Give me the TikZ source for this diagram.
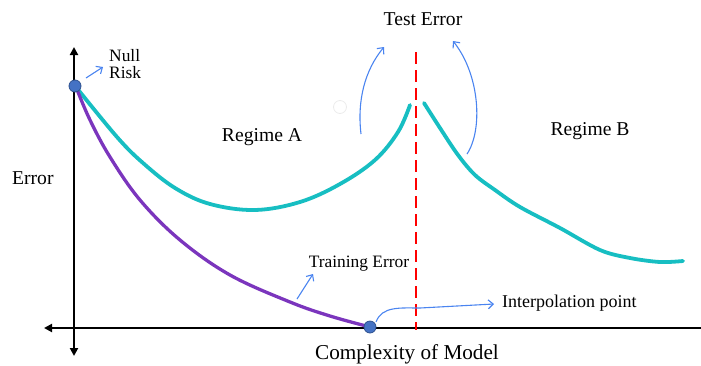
\documentclass[tikz,border=0pt]{standalone}
\usepackage{fontspec}
\setmainfont{Liberation Serif}
\usetikzlibrary{arrows.meta}
\definecolor{testcol}{HTML}{17BEC2}
\definecolor{traincol}{HTML}{7B35BD}
\definecolor{notecol}{HTML}{4A84F0}
\definecolor{dotcol}{HTML}{4472C4}
\definecolor{dotedge}{HTML}{2F528F}
\tikzset{
  axis/.style={line width=2.6pt, black, -{Triangle[length=8pt,width=8pt]}},
  bigtext/.style={font=\fontsize{19.6}{22}\selectfont, inner sep=0pt},
  smalltext/.style={font=\fontsize{17.4}{19.5}\selectfont, inner sep=0pt, align=left},
  note/.style={notecol, line width=1.1pt, -{Straight Barb[length=5pt,width=9pt]}},
  testcurve/.style={testcol, line width=3.8pt, line cap=round, line join=round},
  traincurve/.style={traincol, line width=3.3pt, line cap=round, line join=round},
  dotpt/.style={circle, fill=dotcol, draw=dotedge, line width=0.8pt, minimum size=12pt, inner sep=0pt}
}
\begin{document}
\begin{tikzpicture}[x=1pt,y=-1pt]
\useasboundingbox (0,0) rectangle (701,365);

% axes
\coordinate (origin) at (74,328);
\coordinate (ytop) at (74,47);
\coordinate (ybot) at (74,356);
\coordinate (xleft) at (44,328);
\coordinate (xright) at (701,328);
\draw[axis] (origin) -- (ytop);
\draw[axis] (origin) -- (ybot);
\draw[axis] (origin) -- (xleft);
\draw[line width=2.6pt] (origin) -- (xright);

% interpolation threshold
\coordinate (thtop) at (416,52);
\coordinate (thbot) at (416,330);
\draw[red, line width=1.8pt, dash pattern=on 12pt off 6pt] (thtop) -- (thbot);

% test error, left branch
\draw[testcurve] plot[smooth, tension=0.6] coordinates {(76,87) (117,137) (143,163) (175,188) (210,204) (255,210) (300,202) (340,184) (375,160) (398,132) (410,105)};
% test error, right branch
\draw[testcurve] plot[smooth, tension=0.55] coordinates {(424,103) (440,128) (458,155) (475,175) (495,190) (520,207) (560,228) (600,250) (630,258) (660,262) (683,261)};

% training error
\draw[traincurve] plot[smooth, tension=0.6] coordinates {(76,87) (90,120) (110,157) (140,200) (180,240) (230,275) (290,302) (330,316) (370,327)};

% marked points
\node[dotpt] (nullpt) at (75,86) {};
\node[dotpt] (interp) at (370,327) {};

% faint marker
\node[circle, draw=black!8, line width=0.8pt, minimum size=13pt, inner sep=0pt] (faint) at (340,107) {};

% labels
\node[bigtext] (testlbl) at (423,19) {Test Error};
\node[bigtext] (regA) at (262,137) {Regime A};
\node[bigtext] (regB) at (590,131) {Regime B};
\node[bigtext, anchor=west] (errlbl) at (12,178) {Error};
\node[bigtext, font=\fontsize{21.2}{24}\selectfont] (xlbl) at (407,354) {Complexity of Model};
\node[smalltext, anchor=west] (nulllbl) at (109,64) {Null\\[-2pt]Risk};
\node[smalltext] (trainlbl) at (359,264) {Training Error};
\node[smalltext, font=\fontsize{18}{20}\selectfont, anchor=west] (interplbl) at (502,303) {Interpolation point};

% annotation arrows
\coordinate (n1) at (86,78);
\coordinate (n2) at (103,67);
\draw[note] (n1) -- (n2);
\coordinate (t1) at (297,299);
\coordinate (t2) at (313,274);
\draw[note] (t1) -- (t2);
\coordinate (la) at (361,134);
\coordinate (lb) at (384,47);
\draw[note] (la) .. controls (357,100) and (365,70) .. (lb);
\coordinate (ra) at (467,154);
\coordinate (rb) at (453,41);
\draw[note] (ra) .. controls (483,130) and (480,75) .. (rb);
\coordinate (ia) at (376,322);
\coordinate (ib) at (494,304);
\draw[note] (ia) .. controls (382,306) and (400,308) .. (420,308) -- (ib);
\end{tikzpicture}
\end{document}
